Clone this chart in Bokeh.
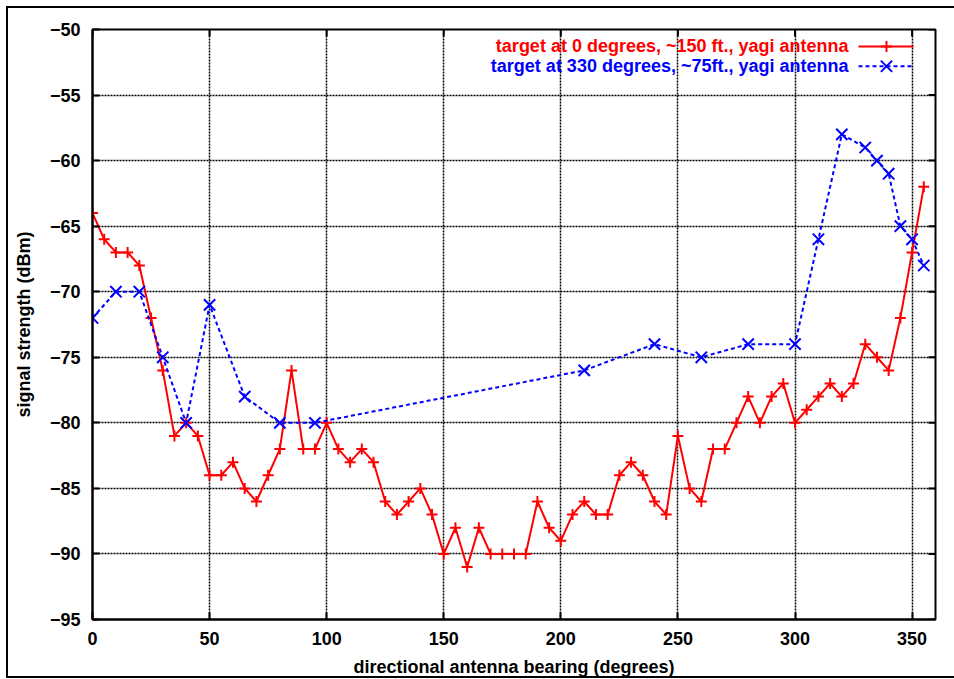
from bokeh.plotting import figure
from bokeh.models import FixedTicker, Label, Range1d
from bokeh.embed import file_html
from bokeh.resources import INLINE

# ---- data ----
bearing_0 = list(range(0, 360, 5))
signal_0 = [-64, -66, -67, -67, -68, -72, -76, -81, -80, -81,
            -84, -84, -83, -85, -86, -84, -82, -76, -82, -82,
            -80, -82, -83, -82, -83, -86, -87, -86, -85, -87,
            -90, -88, -91, -88, -90, -90, -90, -90, -86, -88,
            -89, -87, -86, -87, -87, -84, -83, -84, -86, -87,
            -81, -85, -86, -82, -82, -80, -78, -80, -78, -77,
            -80, -79, -78, -77, -78, -77, -74, -75, -76, -72,
            -67, -62]
bearing_330 = [0, 10, 20, 30, 40, 50, 65, 80, 95, 210, 240, 260, 280, 300,
               310, 320, 330, 335, 340, 345, 350, 355]
signal_330 = [-72, -70, -70, -75, -80, -71, -78, -80, -80, -76, -74, -75, -74, -74,
              -66, -58, -59, -60, -61, -65, -66, -68]
x_ticks = [0, 50, 100, 150, 200, 250, 300, 350]
y_ticks = [-95, -90, -85, -80, -75, -70, -65, -60, -55, -50]
label_0 = "target at 0 degrees, ~150 ft., yagi antenna"
label_330 = "target at 330 degrees, ~75ft., yagi antenna"
x_title = "directional antenna bearing (degrees)"
y_title = "signal strength (dBm)"

FONT = "Liberation Sans"
FS = "18px"
W, H = 954, 679
ML, MT = 92, 29
FW, FH = 843, 594
MR, MB = W - ML - FW, H - MT - FH
XMIN, XMAX, YMIN, YMAX = 0, 360, -95, -50

p = figure(width=W, height=H, x_range=Range1d(XMIN, XMAX), y_range=Range1d(YMIN, YMAX),
           output_backend="svg", toolbar_location=None,
           min_border_left=ML, min_border_right=MR, min_border_top=MT, min_border_bottom=MB,
           x_axis_label=x_title, y_axis_label=y_title)
p.background_fill_color = "white"
p.border_fill_color = None
p.outline_line_color = "black"
p.outline_line_width = 2
# outer frame of the picture (top, left, bottom edges), drawn behind the transparent canvas
p.styles = {
    "background": ("linear-gradient(#000,#000) 6px 6px / 2px 672px no-repeat, "
                   "linear-gradient(#000,#000) 6px 6px / 948px 2px no-repeat, "
                   "linear-gradient(#000,#000) 6px 676px / 948px 2px no-repeat, #fff"),
}

for ax in (p.xaxis[0], p.yaxis[0]):
    ax.major_label_text_font = FONT
    ax.major_label_text_font_style = "bold"
    ax.major_label_text_font_size = FS
    ax.major_label_text_color = "black"
    ax.axis_label_text_font = FONT
    ax.axis_label_text_font_style = "bold"
    ax.axis_label_text_font_size = FS
    ax.axis_label_text_color = "black"
    ax.major_tick_in = 7
    ax.major_tick_out = 0
    ax.major_tick_line_width = 2
    ax.major_tick_line_color = "black"
    ax.minor_tick_line_color = None
    ax.axis_line_width = 2
    ax.axis_line_color = "black"
    ax.major_label_standoff = 12

p.xaxis[0].ticker = FixedTicker(ticks=x_ticks)
p.yaxis[0].ticker = FixedTicker(ticks=y_ticks)
p.xaxis[0].axis_label_standoff = 9
p.yaxis[0].axis_label_standoff = 13

p.xgrid.ticker = FixedTicker(ticks=x_ticks)
p.ygrid.ticker = FixedTicker(ticks=y_ticks)
for g in (p.xgrid[0], p.ygrid[0]):
    g.grid_line_color = "black"
    g.grid_line_width = 1.5
    g.grid_line_dash = "2 1"
    g.grid_line_alpha = 1.0

# mirrored inward ticks on top and right edges
p.ray(x=x_ticks, y=[YMAX] * len(x_ticks), length=7, length_units="screen",
      angle=-90, angle_units="deg", line_color="black", line_width=2)
p.ray(x=[XMAX] * len(y_ticks), y=y_ticks, length=7, length_units="screen",
      angle=180, angle_units="deg", line_color="black", line_width=2)

RED = "#ff0000"
BLUE = "#0000ff"

p.line(bearing_0, signal_0, line_color=RED, line_width=2)
p.scatter(bearing_0, signal_0, marker="cross", size=11, line_color=RED, line_width=2)
p.line(bearing_330, signal_330, line_color=BLUE, line_width=2, line_dash="4 3")
p.scatter(bearing_330, signal_330, marker="x", size=16, line_color=BLUE, line_width=2)

# ---- legend (gnuplot style: text right-aligned, sample at right) ----
def px2x(px):
    return XMIN + (px - ML) / FW * (XMAX - XMIN)
def py2y(py):
    return YMAX - (py - MT) / FH * (YMAX - YMIN)

for txt, col, py, dash, mk, sz in ((label_0, RED, 46, "solid", "cross", 11),
                                   (label_330, BLUE, 66, "4 3", "x", 16)):
    p.add_layout(Label(x=px2x(848), y=py2y(py), text=txt, text_align="right",
                       text_baseline="middle", text_font=FONT, text_font_style="bold",
                       text_font_size=FS, text_color=col))
    p.line([px2x(858), px2x(913)], [py2y(py), py2y(py)], line_color=col, line_width=2,
           line_dash=dash)
    p.scatter([px2x(886)], [py2y(py)], marker=mk, size=sz, line_color=col, line_width=2)

open("out.html", "w").write(file_html(p, INLINE))
